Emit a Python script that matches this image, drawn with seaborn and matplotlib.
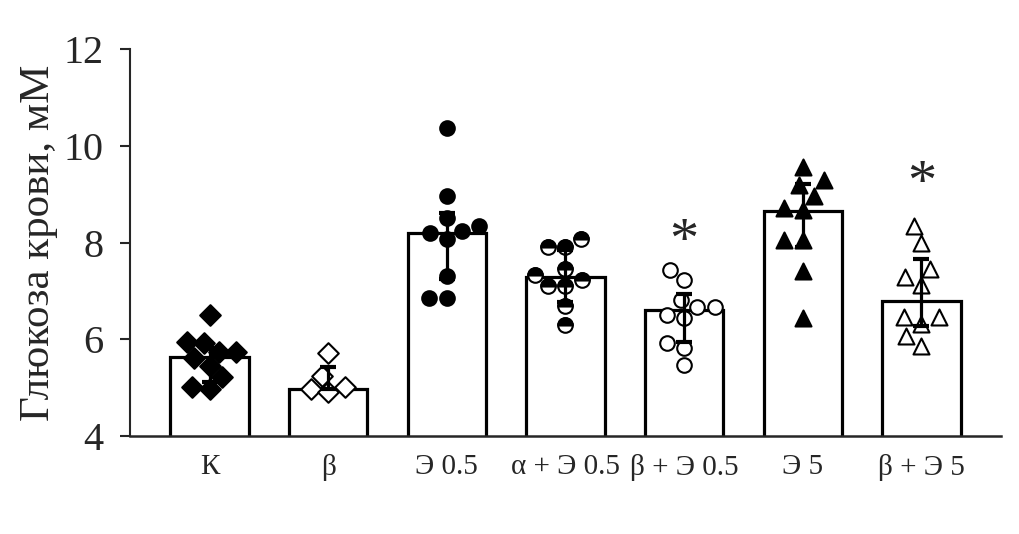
import numpy as np
import pandas as pd
import matplotlib
matplotlib.use('Agg')
import matplotlib.pyplot as plt
from matplotlib.markers import MarkerStyle
from matplotlib.transforms import offset_copy
import seaborn as sns

# groups along the x axis
groups = ['К', 'β', 'Э 0.5', 'α + Э 0.5', 'β + Э 0.5', 'Э 5', 'β + Э 5']

# individual animals, blood glucose (mM)
k_vals = [6.50, 5.92, 5.95, 5.74, 5.74, 5.62, 5.45, 5.21, 4.97, 5.02]
beta_vals = [5.72, 5.24, 5.01, 4.97, 4.92]
e05_vals = [10.37, 8.97, 8.50, 8.19, 8.07, 8.24, 8.34, 7.31, 6.86, 6.86]
alpha_e05_vals = [8.07, 7.91, 7.91, 7.22, 7.10, 7.10, 7.33, 7.45, 6.69, 6.29]
beta_e05_vals = [7.43, 7.22, 6.81, 6.66, 6.66, 6.50, 6.43, 5.93, 5.83, 5.47]
e5_vals = [9.57, 9.29, 9.20, 8.97, 8.71, 8.67, 8.05, 8.05, 7.41, 6.45]
beta_e5_vals = [8.34, 8.00, 7.45, 7.29, 7.12, 6.47, 6.47, 6.32, 6.07, 5.86]

# bar heights and error bar ends
bar_heights = [5.63, 4.97, 8.19, 7.29, 6.60, 8.65, 6.80]
err_low = [5.12, 4.97, 7.24, 6.78, 5.95, 7.90, 6.27]
err_high = [5.82, 5.42, 8.62, 7.84, 6.93, 9.21, 7.66]

# significance stars: group index and height
star_groups = [4, 6]
star_y = [8.26, 9.46]

all_vals = [k_vals, beta_vals, e05_vals, alpha_e05_vals, beta_e05_vals, e5_vals, beta_e5_vals]
df = pd.concat([pd.DataFrame({'group': g, 'value': v}) for g, v in zip(groups, all_vals)],
               ignore_index=True)

# marker, face colour, size for every group ('half' = top black, bottom white)
styles = {
    'К': ('D', 'black', 10.5),
    'β': ('D', 'white', 10.5),
    'Э 0.5': ('o', 'black', 10.5),
    'α + Э 0.5': ('o', 'half', 10.5),
    'β + Э 0.5': ('o', 'white', 10.5),
    'Э 5': ('^', 'black', 11.5),
    'β + Э 5': ('^', 'white', 11.5),
}

sns.set_style('ticks')
plt.rcParams['font.family'] = ['Liberation Serif', 'DejaVu Serif']

fig = plt.figure(figsize=(10.19, 5.34), dpi=100)
ax = fig.add_axes([0.1276, 0.1835, 0.8547, 0.7245])

bar_df = pd.DataFrame({'group': groups, 'height': bar_heights})
sns.barplot(data=bar_df, x='group', y='height', order=groups, color='white', saturation=1,
            edgecolor='black', linewidth=2.3, width=0.66, errorbar=None, ax=ax, zorder=1)

for g in groups:
    m, fc, sz = styles[g]
    sub = df[df['group'] == g]
    if fc == 'half':
        # white full circle first, then the black top half on the same swarm
        sns.swarmplot(data=sub, x='group', y='value', order=groups, marker=m, color='white',
                      edgecolor='black', linewidth=1.5, size=sz, ax=ax, zorder=3)
        sns.swarmplot(data=sub, x='group', y='value', order=groups,
                      marker=MarkerStyle('o', fillstyle='top'), color='black',
                      edgecolor='black', linewidth=1.5, size=sz, ax=ax, zorder=3)
    else:
        sns.swarmplot(data=sub, x='group', y='value', order=groups, marker=m, color=fc,
                      edgecolor='black', linewidth=1.5, size=sz, ax=ax, zorder=3)

ax.set_xlim(-0.67, 6.67)
ax.set_ylim(4, 12)

heights = np.array(bar_heights)
yerr = [heights - np.array(err_low), np.array(err_high) - heights]
ax.errorbar(np.arange(len(groups)), heights, yerr=yerr, fmt='none', ecolor='black',
            elinewidth=2.3, capsize=6, capthick=3, zorder=4)

# asterisk glyph sits about half an em above the baseline, so shift the baseline down
star_size = 42
star_trans = offset_copy(ax.transData, fig=fig, y=-0.47 * star_size, units='points')
for gi, sy in zip(star_groups, star_y):
    ax.text(gi, sy, '*', ha='center', va='baseline', fontsize=star_size, transform=star_trans)

ax.set_yticks([4, 6, 8, 10, 12])
ax.tick_params(axis='y', labelsize=29, length=7, width=1.5, pad=12)
ax.tick_params(axis='x', labelsize=21, length=0, pad=13)
ax.set_xlabel('')
ax.set_ylabel('Глюкоза крови, мМ', fontsize=31, labelpad=4)

sns.despine(ax=ax)
ax.spines['left'].set_linewidth(1.5)
ax.spines['bottom'].set_linewidth(1.8)

fig.savefig('out.png', dpi=100)
